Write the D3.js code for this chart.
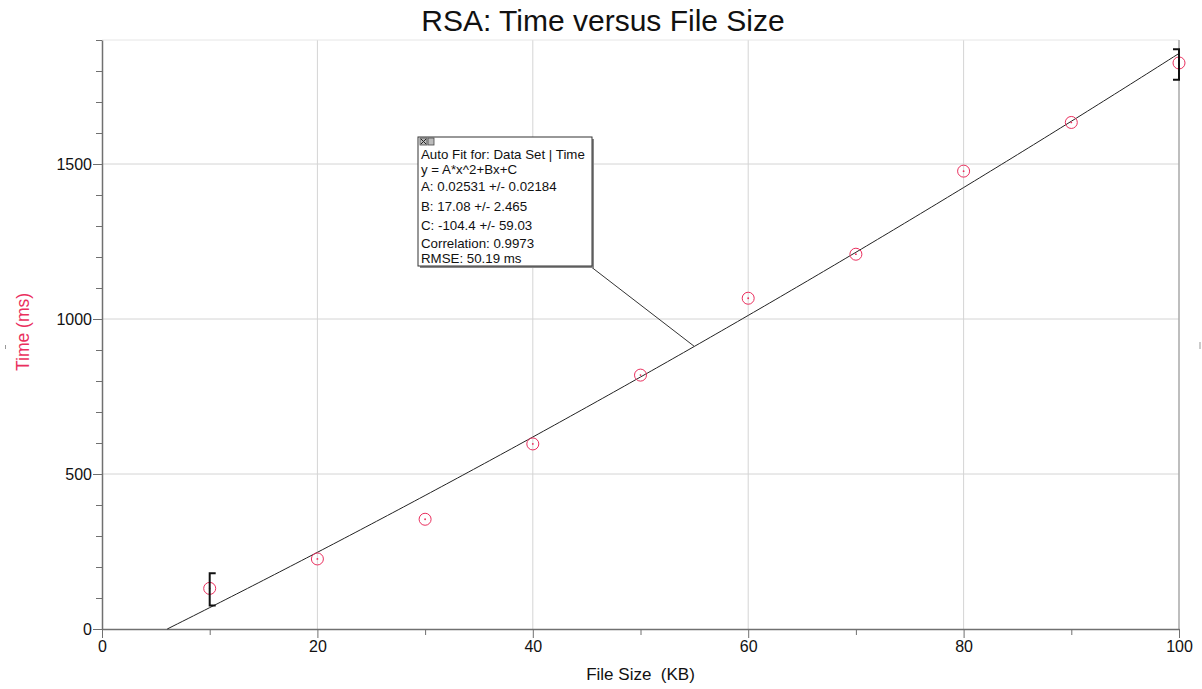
<!DOCTYPE html>
<html>
<head>
<meta charset="utf-8">
<script src="https://d3js.org/d3.v7.min.js"></script>
<style>
  body { margin: 0; background: #fff; }
  text { font-family: "Liberation Sans", Arial, sans-serif; }
</style>
</head>
<body>
<div id="chart"></div>
<script>
// data
const fileSize = [10, 20, 30, 40, 50, 60, 70, 80, 90, 100];
const timeMs   = [131, 226, 354, 597, 819, 1067, 1209, 1477, 1634, 1826];

// fit parameters shown in the box
const fitA = 0.02531, fitB = 17.08, fitC = -104.4;
const fitLines = [
    "Auto Fit for: Data Set | Time",
    "y = A*x^2+Bx+C",
    "A: 0.02531 +/- 0.02184",
    "B: 17.08 +/- 2.465",
    "C: -104.4 +/- 59.03",
    "Correlation: 0.9973",
    "RMSE: 50.19 ms"
];

const xMajor = [0, 20, 40, 60, 80, 100];
const yMajor = [0, 500, 1000, 1500];

const width = 1202, height = 689;
const margin = {top: 40, right: 23, bottom: 60, left: 102};
const pink = "#ea2f5e";

const svg = d3.select("#chart").append("svg")
    .attr("width", width)
    .attr("height", height);

const x = d3.scaleLinear().domain([0, 100]).range([margin.left, width - margin.right]);
const y = d3.scaleLinear().domain([0, 1900]).range([height - margin.bottom, margin.top]);

/// grid ///
svg.append("g").selectAll("line")
    .data(xMajor.filter(d => d > 0 && d < 100))
    .enter().append("line")
    .attr("x1", d => x(d)).attr("x2", d => x(d))
    .attr("y1", y(0)).attr("y2", y(1900))
    .attr("stroke", "#d4d4d4");

svg.append("g").selectAll("line")
    .data(yMajor.filter(d => d > 0))
    .enter().append("line")
    .attr("x1", x(0)).attr("x2", x(100))
    .attr("y1", d => y(d)).attr("y2", d => y(d))
    .attr("stroke", "#d4d4d4");

// frame top / right
svg.append("line")
    .attr("x1", x(0)).attr("x2", x(100))
    .attr("y1", y(1900)).attr("y2", y(1900))
    .attr("stroke", "#e6e6e6");
svg.append("line")
    .attr("x1", x(100)).attr("x2", x(100))
    .attr("y1", y(0)).attr("y2", y(1900))
    .attr("stroke", "#a8a8a8").attr("stroke-width", 1.5);

/// axes ///
const xAxis = svg.append("g")
    .attr("transform", "translate(0," + y(0) + ")")
    .call(d3.axisBottom(x).tickValues(d3.range(0, 101, 10))
        .tickSize(0).tickFormat(d => d % 20 === 0 ? d : ""));
xAxis.select(".domain").attr("stroke", "#707070").attr("stroke-width", 1.5);
xAxis.selectAll(".tick line")
    .attr("y2", d => d % 20 === 0 ? 9 : 6)
    .attr("stroke", "#707070");
xAxis.selectAll(".tick text")
    .attr("y", 12)
    .attr("font-size", 16)
    .attr("fill", "#111");

const yAxis = svg.append("g")
    .attr("transform", "translate(" + x(0) + ",0)")
    .call(d3.axisLeft(y).tickValues(d3.range(0, 1901, 100))
        .tickSize(0).tickFormat(d => d % 500 === 0 ? d : ""));
yAxis.select(".domain").attr("stroke", "#707070").attr("stroke-width", 1.5);
yAxis.selectAll(".tick line")
    .attr("x2", d => d % 500 === 0 ? -9 : -6)
    .attr("stroke", "#707070");
yAxis.selectAll(".tick text")
    .attr("x", -10)
    .attr("font-size", 16)
    .attr("fill", "#111");

/// labels ///
svg.append("text")
    .attr("x", width / 2 + 2)
    .attr("y", 31)
    .attr("text-anchor", "middle")
    .attr("font-size", 30)
    .attr("fill", "#111")
    .text("RSA: Time versus File Size");

svg.append("text")
    .attr("x", x(50))
    .attr("y", 680)
    .attr("text-anchor", "middle")
    .attr("font-size", 17)
    .attr("fill", "#111")
    .attr("xml:space", "preserve")
    .text("File Size  (KB)");

svg.append("text")
    .attr("transform", "translate(29,332) rotate(-90)")
    .attr("text-anchor", "middle")
    .attr("font-size", 17.5)
    .attr("fill", pink)
    .text("Time (ms)");

// small side marks
svg.append("line").attr("x1", 5.5).attr("x2", 5.5).attr("y1", 345).attr("y2", 349)
    .attr("stroke", "#999");
svg.append("line").attr("x1", 1200).attr("x2", 1200).attr("y1", 342).attr("y2", 349)
    .attr("stroke", "#999");

/// fit curve ///
const fitX = d3.range(0, 100.01, 0.5);
const x0 = (-fitB + Math.sqrt(fitB * fitB - 4 * fitA * fitC)) / (2 * fitA);
const fitPts = [x0].concat(fitX.filter(v => v > x0)).map(v => [v, fitA * v * v + fitB * v + fitC]);

svg.append("path")
    .datum(fitPts)
    .attr("fill", "none")
    .attr("stroke", "#222")
    .attr("stroke-width", 1)
    .attr("d", d3.line().x(d => x(d[0])).y(d => y(d[1])));

/// points ///
const pts = svg.append("g");
pts.selectAll("circle.m")
    .data(fileSize)
    .enter().append("circle")
    .attr("class", "m")
    .attr("cx", d => x(d))
    .attr("cy", (d, i) => y(timeMs[i]))
    .attr("r", 6)
    .attr("fill", "none")
    .attr("stroke", pink)
    .attr("stroke-width", 1);
pts.selectAll("circle.c")
    .data(fileSize)
    .enter().append("circle")
    .attr("class", "c")
    .attr("cx", d => x(d))
    .attr("cy", (d, i) => y(timeMs[i]))
    .attr("r", 0.9)
    .attr("fill", pink);

/// examine brackets ///
const bracket = (xv, y1, y2, dir) => {
    const px = x(xv);
    svg.append("path")
        .attr("d", "M" + (px + dir * 6) + "," + y(y1) + "H" + px + "V" + y(y2) + "H" + (px + dir * 6))
        .attr("fill", "none")
        .attr("stroke", "#111")
        .attr("stroke-width", 2);
};
bracket(10, 180, 76, 1);
bracket(100, 1870, 1772, -1);

/// annotation box ///
const box = {x: 418, y: 137, w: 174, h: 129};
const target = [55, fitA * 55 * 55 + fitB * 55 + fitC];

svg.append("line")
    .attr("x1", box.x + 172).attr("y1", box.y + box.h)
    .attr("x2", x(target[0])).attr("y2", y(target[1]))
    .attr("stroke", "#333");

svg.append("rect")
    .attr("x", box.x + 2).attr("y", box.y + 2)
    .attr("width", box.w).attr("height", box.h)
    .attr("fill", "#888");
svg.append("rect")
    .attr("x", box.x).attr("y", box.y)
    .attr("width", box.w).attr("height", box.h)
    .attr("fill", "#fff")
    .attr("stroke", "#333");

// close / minimize icons
svg.append("rect").attr("x", box.x + 2).attr("y", box.y + 1).attr("width", 7).attr("height", 7)
    .attr("fill", "#bbb").attr("stroke", "#444").attr("stroke-width", 0.8);
svg.append("path").attr("d", "M" + (box.x + 3) + "," + (box.y + 2) + "l5,5m0,-5l-5,5")
    .attr("stroke", "#222").attr("stroke-width", 1);
svg.append("rect").attr("x", box.x + 10).attr("y", box.y + 1).attr("width", 6).attr("height", 7)
    .attr("fill", "#bbb").attr("stroke", "#444").attr("stroke-width", 0.8);

const lineY = [22, 37, 54, 74, 93, 111, 126];
svg.append("g").selectAll("text")
    .data(fitLines)
    .enter().append("text")
    .attr("x", box.x + 3)
    .attr("y", (d, i) => box.y + lineY[i])
    .attr("font-size", 13.3)
    .attr("fill", "#111")
    .text(d => d);
</script>
</body>
</html>
